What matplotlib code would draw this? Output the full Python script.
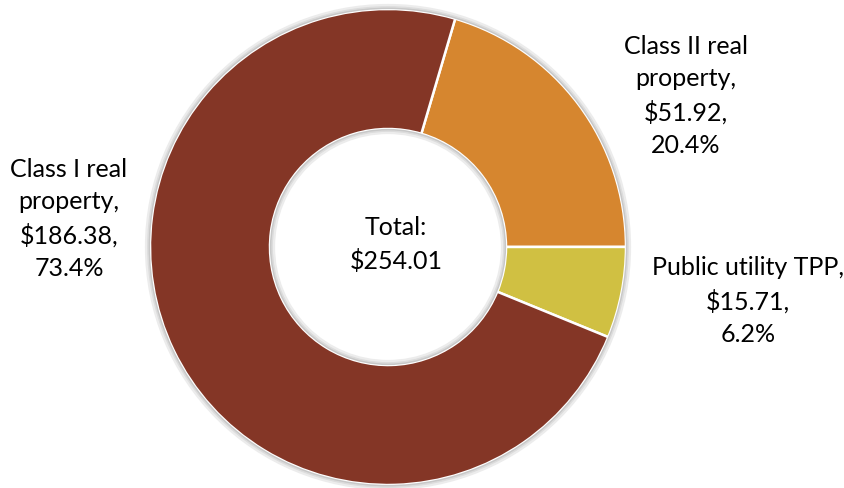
import matplotlib.pyplot as plt
from matplotlib.patches import Circle

# Property tax base by class (millions of dollars)
labels = ['Class II real\nproperty', 'Public utility TPP', 'Class I real\nproperty']
values = [51.92, 15.71, 186.38]
shares = [20.4, 6.2, 73.4]
colors = ['#D6862F', '#D0C042', '#843626']
total = 254.01

plt.rcParams['font.family'] = ['Lato', 'DejaVu Sans']

fig = plt.figure(figsize=(8.45, 4.89), dpi=100)
ax = fig.add_axes([0, 0, 1, 1])

cx, cy, r_out, r_in = 388, 241, 238, 118
ax.pie(values, colors=colors, startangle=73.6, counterclock=False,
       center=(cx, cy), radius=r_out, frame=True,
       wedgeprops=dict(width=r_out - r_in, edgecolor='white', linewidth=1.8))

# soft grey rim just inside the hole and just outside the ring
for k, c in enumerate(['#c8c8c8', '#dcdcdc', '#ececec']):
    ax.add_patch(Circle((cx, cy), r_in - 1 - 1.5 * k, fill=False, edgecolor=c, linewidth=1.6))
    ax.add_patch(Circle((cx, cy), r_out + 1 + 1.5 * k, fill=False, edgecolor=c, linewidth=1.6))

ax.set_xlim(0, 845)
ax.set_ylim(0, 489)
ax.set_aspect('equal')
ax.axis('off')

label_pos = [(686, 393), (748, 188), (69, 270)]
for lab, v, s, (x, y) in zip(labels, values, shares, label_pos):
    ax.text(x, y, f'{lab},\n${v:.2f},\n{s:.1f}%', ha='center', va='center',
            fontsize=18, linespacing=1.5, color='black')

ax.text(396, 244, f'Total:\n${total:.2f}', ha='center', va='center',
        fontsize=18, linespacing=1.5, color='black')

fig.savefig('out.png', dpi=100)
